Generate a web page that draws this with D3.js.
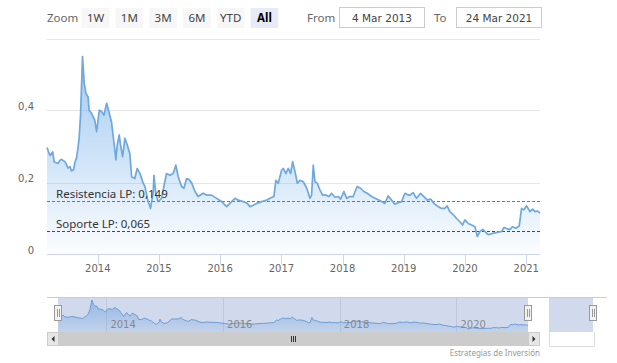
<!DOCTYPE html>
<html>
<head>
<meta charset="utf-8">
<script src="https://cdn.jsdelivr.net/npm/d3@7/dist/d3.min.js"></script>
<style>
  body { margin: 0; background: #fff; }
  svg { display: block; }
</style>
</head>
<body>
<svg id="chart" width="617" height="363"></svg>
<script>
// price series
const dates = [
  "2013-03-04","2013-03-15","2013-03-22","2013-04-07","2013-04-16","2013-05-10","2013-05-20","2013-05-30",
  "2013-06-19","2013-07-08","2013-07-20","2013-07-28","2013-08-10","2013-08-17","2013-08-27","2013-09-06",
  "2013-09-12","2013-09-20","2013-10-02","2013-10-12","2013-10-22","2013-11-04","2013-11-10","2013-11-25",
  "2013-12-14","2013-12-25","2014-01-10","2014-01-24","2014-02-07","2014-02-23","2014-03-08","2014-03-24",
  "2014-04-03","2014-04-13","2014-04-19","2014-04-27","2014-05-09","2014-05-17","2014-05-29","2014-06-12",
  "2014-06-26","2014-07-11","2014-07-22","2014-08-10","2014-08-24","2014-09-09","2014-09-29","2014-10-09",
  "2014-10-29","2014-11-12","2014-11-28","2014-12-02","2014-12-13","2014-12-27","2015-01-16","2015-02-15",
  "2015-03-07","2015-03-27","2015-04-12","2015-04-26","2015-05-16","2015-05-30","2015-06-15","2015-06-30",
  "2015-07-15","2015-08-04","2015-08-23","2015-09-22","2015-10-12","2015-11-11","2015-12-11","2016-01-10",
  "2016-02-09","2016-02-28","2016-03-30","2016-04-18","2016-05-18","2016-06-11","2016-06-27","2016-07-17",
  "2016-08-06","2016-09-05","2016-10-05","2016-10-24","2016-11-17","2016-11-29","2016-12-13","2017-01-02",
  "2017-01-12","2017-01-28","2017-02-11","2017-02-25","2017-03-09","2017-03-23","2017-04-06","2017-04-22",
  "2017-05-12","2017-06-01","2017-06-20","2017-06-30","2017-07-10","2017-07-20","2017-08-03","2017-08-19",
  "2017-09-04","2017-09-23","2017-10-13","2017-10-27","2017-11-16","2017-12-06","2017-12-20","2018-01-09",
  "2018-01-25","2018-02-14","2018-03-05","2018-03-29","2018-04-18","2018-05-08","2018-05-28","2018-06-23",
  "2018-07-23","2018-08-22","2018-09-11","2018-09-30","2018-10-20","2018-11-09","2018-11-29","2018-12-19",
  "2019-01-08","2019-01-28","2019-02-07","2019-02-26","2019-03-18","2019-04-11","2019-05-01","2019-05-21",
  "2019-06-10","2019-06-30","2019-07-25","2019-08-14","2019-09-03","2019-09-17","2019-10-03","2019-10-27",
  "2019-11-12","2019-12-02","2019-12-18","2020-01-01","2020-01-21","2020-02-10","2020-03-01","2020-03-15",
  "2020-03-31","2020-04-16","2020-05-06","2020-05-19","2020-06-09","2020-06-28","2020-07-18","2020-08-07",
  "2020-08-21","2020-09-06","2020-09-25","2020-10-11","2020-10-31","2020-11-20","2020-12-04","2020-12-18",
  "2021-01-03","2021-01-23","2021-02-08","2021-02-22","2021-03-08","2021-03-24"
];
const values = [
  0.297,0.283,0.275,0.285,0.257,0.253,0.262,0.264,
  0.258,0.240,0.244,0.232,0.236,0.255,0.268,0.300,
  0.325,0.385,0.550,0.476,0.448,0.438,0.401,0.392,
  0.373,0.341,0.401,0.397,0.387,0.420,0.397,0.368,
  0.328,0.290,0.263,0.304,0.332,0.304,0.272,0.323,
  0.304,0.281,0.216,0.211,0.239,0.226,0.198,0.189,
  0.147,0.128,0.175,0.220,0.170,0.147,0.155,0.225,
  0.220,0.225,0.248,0.216,0.189,0.184,0.211,0.208,
  0.199,0.175,0.161,0.170,0.165,0.165,0.156,0.147,
  0.133,0.142,0.156,0.151,0.147,0.142,0.133,0.137,
  0.142,0.147,0.151,0.156,0.161,0.206,0.198,0.234,
  0.239,0.225,0.239,0.225,0.258,0.230,0.198,0.206,
  0.202,0.184,0.156,0.165,0.248,0.202,0.198,0.179,
  0.165,0.165,0.161,0.170,0.159,0.161,0.154,0.175,
  0.156,0.161,0.161,0.189,0.184,0.175,0.170,0.161,
  0.154,0.147,0.142,0.163,0.151,0.140,0.144,0.147,
  0.170,0.165,0.165,0.172,0.156,0.170,0.161,0.151,
  0.154,0.142,0.133,0.128,0.128,0.135,0.119,0.109,
  0.100,0.091,0.082,0.096,0.086,0.082,0.077,0.050,
  0.064,0.070,0.061,0.055,0.058,0.060,0.062,0.064,
  0.075,0.072,0.069,0.077,0.073,0.079,0.128,0.124,
  0.135,0.119,0.126,0.119,0.121,0.115
];

// axes and labels
const startDate = "2013-03-04";
const endDate = "2021-03-24";
const yTicks = [0, 0.2, 0.4, 0.6];
const yTickLabels = ["0", "0,2", "0,4", ""];
const xTickYears = [2014, 2015, 2016, 2017, 2018, 2019, 2020, 2021];
const navTickYears = [2014, 2016, 2018, 2020];
const zoomButtons = ["1W", "1M", "3M", "6M", "YTD", "All"];
const selectedButton = "All";
const fromLabel = "4 Mar 2013";
const toLabel = "24 Mar 2021";

// horizontal support / resistance levels
const levelValues = [0.149, 0.065];
const levelLabels = ["Resistencia LP: 0,149", "Soporte LP: 0,065"];

const credits = "Estrategias de Inversión";

const parse = d3.timeParse("%Y-%m-%d");
const data = dates.map((d, i) => ({ date: parse(d), value: values[i] }));

const svg = d3.select("#chart");
const uiFont = "'Noto Sans', 'Open Sans', sans-serif";
const axisFont = "'DejaVu Sans', Verdana, sans-serif";

// main plot scales
const x = d3.scaleTime().domain([parse(startDate), parse(endDate)]).range([47, 540]);
const y = d3.scaleLinear().domain([0, 0.6]).range([254.5, 38.5]);

const defs = svg.append("defs");
const grad = defs.append("linearGradient")
  .attr("id", "areaGrad").attr("gradientUnits", "userSpaceOnUse")
  .attr("x1", 0).attr("y1", y(0.6)).attr("x2", 0).attr("y2", y(0));
grad.append("stop").attr("offset", 0).attr("stop-color", "#7cb5ec").attr("stop-opacity", 0.78);
grad.append("stop").attr("offset", 1).attr("stop-color", "#7cb5ec").attr("stop-opacity", 0.03);

// ---- range selector ----
svg.append("text").attr("x", 47).attr("y", 21.5)
  .attr("font-family", uiFont).attr("font-size", 11.5).attr("fill", "#666")
  .text("Zoom");

const btnX = d3.scaleBand().domain(zoomButtons).range([80, 280]).paddingInner(0.18).paddingOuter(0.05);
const btn = svg.append("g").selectAll("g").data(zoomButtons).enter().append("g");
btn.append("rect")
  .attr("x", d => btnX(d)).attr("y", 8).attr("width", btnX.bandwidth()).attr("height", 20)
  .attr("fill", d => d === selectedButton ? "#e6ebf5" : "#f7f7f7");
btn.append("text")
  .attr("x", d => btnX(d) + btnX.bandwidth() / 2).attr("y", 21.5)
  .attr("text-anchor", "middle")
  .attr("font-family", uiFont).attr("font-size", 11.5)
  .attr("font-weight", d => d === selectedButton ? "bold" : "normal")
  .attr("fill", d => d === selectedButton ? "#000" : "#444")
  .text(d => d);

svg.append("text").attr("x", 307).attr("y", 21.5)
  .attr("font-family", uiFont).attr("font-size", 11.5).attr("fill", "#666").text("From");
svg.append("text").attr("x", 434).attr("y", 21.5)
  .attr("font-family", uiFont).attr("font-size", 11.5).attr("fill", "#666").text("To");

[[339, fromLabel], [456, toLabel]].forEach(([bx, label]) => {
  svg.append("rect").attr("x", bx + 0.5).attr("y", 7.5).attr("width", 85).attr("height", 20)
    .attr("fill", "#fff").attr("stroke", "#cccccc");
  svg.append("text").attr("x", bx + 43).attr("y", 21.5).attr("text-anchor", "middle")
    .attr("font-family", axisFont).attr("font-size", 10.5).attr("fill", "#444").text(label);
});

// ---- main plot ----
const grid = svg.append("g");
grid.selectAll("line").data(yTicks.filter(t => t > 0)).enter().append("line")
  .attr("x1", 47).attr("x2", 540)
  .attr("y1", d => Math.round(y(d)) + 0.5).attr("y2", d => Math.round(y(d)) + 0.5)
  .attr("stroke", "#e6e6e6");

svg.append("g").selectAll("text").data(yTicks).enter().append("text")
  .attr("x", 34).attr("y", d => y(d) - 1)
  .attr("text-anchor", "end")
  .attr("font-family", axisFont).attr("font-size", 10).attr("fill", "#666")
  .text((d, i) => yTickLabels[i]);

const area = d3.area().x(d => x(d.date)).y0(y(0)).y1(d => y(d.value));
const line = d3.line().x(d => x(d.date)).y(d => y(d.value));

svg.append("path").datum(data).attr("d", area).attr("fill", "url(#areaGrad)");

// level lines
const levelColors = ["#3f9f3a", "#b3163a"];
levelValues.forEach((v, i) => {
  svg.append("line")
    .attr("x1", 47).attr("x2", 540)
    .attr("y1", Math.round(y(v)) + 0.5).attr("y2", Math.round(y(v)) + 0.5)
    .attr("stroke", levelColors[i]).attr("stroke-width", 1)
    .attr("stroke-dasharray", "3,2")
    .attr("shape-rendering", "crispEdges");
});

svg.append("path").datum(data).attr("d", line)
  .attr("fill", "none").attr("stroke", "#6ea8de").attr("stroke-width", 1.7)
  .attr("stroke-linejoin", "round");

levelValues.forEach((v, i) => {
  svg.append("text").attr("x", 56).attr("y", y(v) - 3)
    .attr("font-family", uiFont).attr("font-size", 11.5).attr("fill", "#333")
    .text(levelLabels[i]);
});

// x axis
const xAxisG = svg.append("g").attr("transform", `translate(0,${y(0)})`);
xAxisG.append("line").attr("x1", 47).attr("x2", 540).attr("stroke", "#ccd6eb");
const xTicks = xTickYears.map(yr => new Date(yr, 0, 1));
xAxisG.selectAll("line.tick").data(xTicks).enter().append("line")
  .attr("class", "tick")
  .attr("x1", d => Math.round(x(d)) + 0.5).attr("x2", d => Math.round(x(d)) + 0.5)
  .attr("y1", 0).attr("y2", 10).attr("stroke", "#ccd6eb");
xAxisG.selectAll("text").data(xTicks).enter().append("text")
  .attr("x", d => x(d)).attr("y", 17.5)
  .attr("text-anchor", "middle")
  .attr("font-family", axisFont).attr("font-size", 10).attr("fill", "#666")
  .text(d => d.getFullYear());

// ---- navigator ----
const navTop = 297, navBottom = 332;
const nx = d3.scaleTime().domain([parse(startDate), parse(endDate)]).range([58, 528]);
const ny = d3.scaleLinear().domain(d3.extent(values)).range([navBottom - 3, navTop + 3]);

const navGrad = defs.append("linearGradient")
  .attr("id", "navGrad").attr("gradientUnits", "userSpaceOnUse")
  .attr("x1", 0).attr("y1", navTop).attr("x2", 0).attr("y2", navBottom);
navGrad.append("stop").attr("offset", 0).attr("stop-color", "#7cb5ec").attr("stop-opacity", 0.7);
navGrad.append("stop").attr("offset", 1).attr("stop-color", "#7cb5ec").attr("stop-opacity", 0.15);

const navTicks = navTickYears.map(yr => new Date(yr, 0, 1));
svg.append("g").selectAll("line").data(navTicks).enter().append("line")
  .attr("x1", d => Math.round(nx(d)) + 0.5).attr("x2", d => Math.round(nx(d)) + 0.5)
  .attr("y1", navTop).attr("y2", navBottom).attr("stroke", "#e6e6e6");

svg.append("path").datum(data)
  .attr("d", d3.area().x(d => nx(d.date)).y0(navBottom).y1(d => ny(d.value)))
  .attr("fill", "url(#navGrad)");
svg.append("path").datum(data)
  .attr("d", d3.line().x(d => nx(d.date)).y(d => ny(d.value)))
  .attr("fill", "none").attr("stroke", "#6ea8de").attr("stroke-width", 1);

// selected range mask
svg.append("rect").attr("x", nx.range()[0]).attr("y", navTop)
  .attr("width", nx.range()[1] - nx.range()[0]).attr("height", navBottom - navTop)
  .attr("fill", "rgba(102,133,194,0.3)");

svg.append("g").selectAll("text").data(navTicks).enter().append("text")
  .attr("x", d => nx(d) + 4).attr("y", navBottom - 4)
  .attr("font-family", axisFont).attr("font-size", 10).attr("fill", "#888")
  .text(d => d.getFullYear());

// stray mask box at the right, as in the picture
svg.append("rect").attr("x", 549).attr("y", navTop).attr("width", 44).attr("height", navBottom - navTop)
  .attr("fill", "rgba(102,133,194,0.3)");
svg.append("path").attr("d", `M549.5,${navBottom}V346.5H594.5V${navBottom}`)
  .attr("fill", "none").attr("stroke", "#dddddd");
svg.append("line").attr("x1", 47).attr("x2", 607).attr("y1", navTop + 0.5).attr("y2", navTop + 0.5)
  .attr("stroke", "#cccccc");

// handles
function handle(cx) {
  const g = svg.append("g");
  g.append("rect").attr("x", cx - 3.5).attr("y", 305.5).attr("width", 7).attr("height", 15)
    .attr("fill", "#f2f2f2").attr("stroke", "#999");
  [-1, 1].forEach(o => g.append("line")
    .attr("x1", cx + o + 0.5).attr("x2", cx + o + 0.5).attr("y1", 309).attr("y2", 317)
    .attr("stroke", "#999"));
}
handle(nx.range()[0]);
handle(nx.range()[1]);
handle(593);

// scrollbar
const sbTop = 332, sbH = 14;
svg.append("rect").attr("x", 47).attr("y", sbTop).attr("width", 493).attr("height", sbH).attr("fill", "#f2f2f2");
svg.append("rect").attr("x", nx.range()[0]).attr("y", sbTop).attr("width", nx.range()[1] - nx.range()[0])
  .attr("height", sbH).attr("fill", "#cccccc");
[[47, -1], [528, 1]].forEach(([bx, dir]) => {
  svg.append("rect").attr("x", bx + 0.5).attr("y", sbTop + 0.5).attr("width", 11).attr("height", sbH - 1)
    .attr("fill", "#e6e6e6").attr("stroke", "#cccccc");
  const cx = bx + 6, cy = sbTop + sbH / 2;
  svg.append("path")
    .attr("d", dir < 0 ? `M${cx + 1.5},${cy - 3}L${cx - 1.5},${cy}L${cx + 1.5},${cy + 3}Z`
                       : `M${cx - 1.5},${cy - 3}L${cx + 1.5},${cy}L${cx - 1.5},${cy + 3}Z`)
    .attr("fill", "#333");
});
const gripX = (nx.range()[0] + nx.range()[1]) / 2;
[-2, 0, 2].forEach(o => svg.append("line")
  .attr("x1", gripX + o + 0.5).attr("x2", gripX + o + 0.5)
  .attr("y1", sbTop + 4).attr("y2", sbTop + sbH - 4).attr("stroke", "#333"));

svg.append("text").attr("x", 540).attr("y", 356).attr("text-anchor", "end")
  .attr("font-family", uiFont).attr("font-size", 8).attr("fill", "#999")
  .text(credits);
</script>
</body>
</html>
